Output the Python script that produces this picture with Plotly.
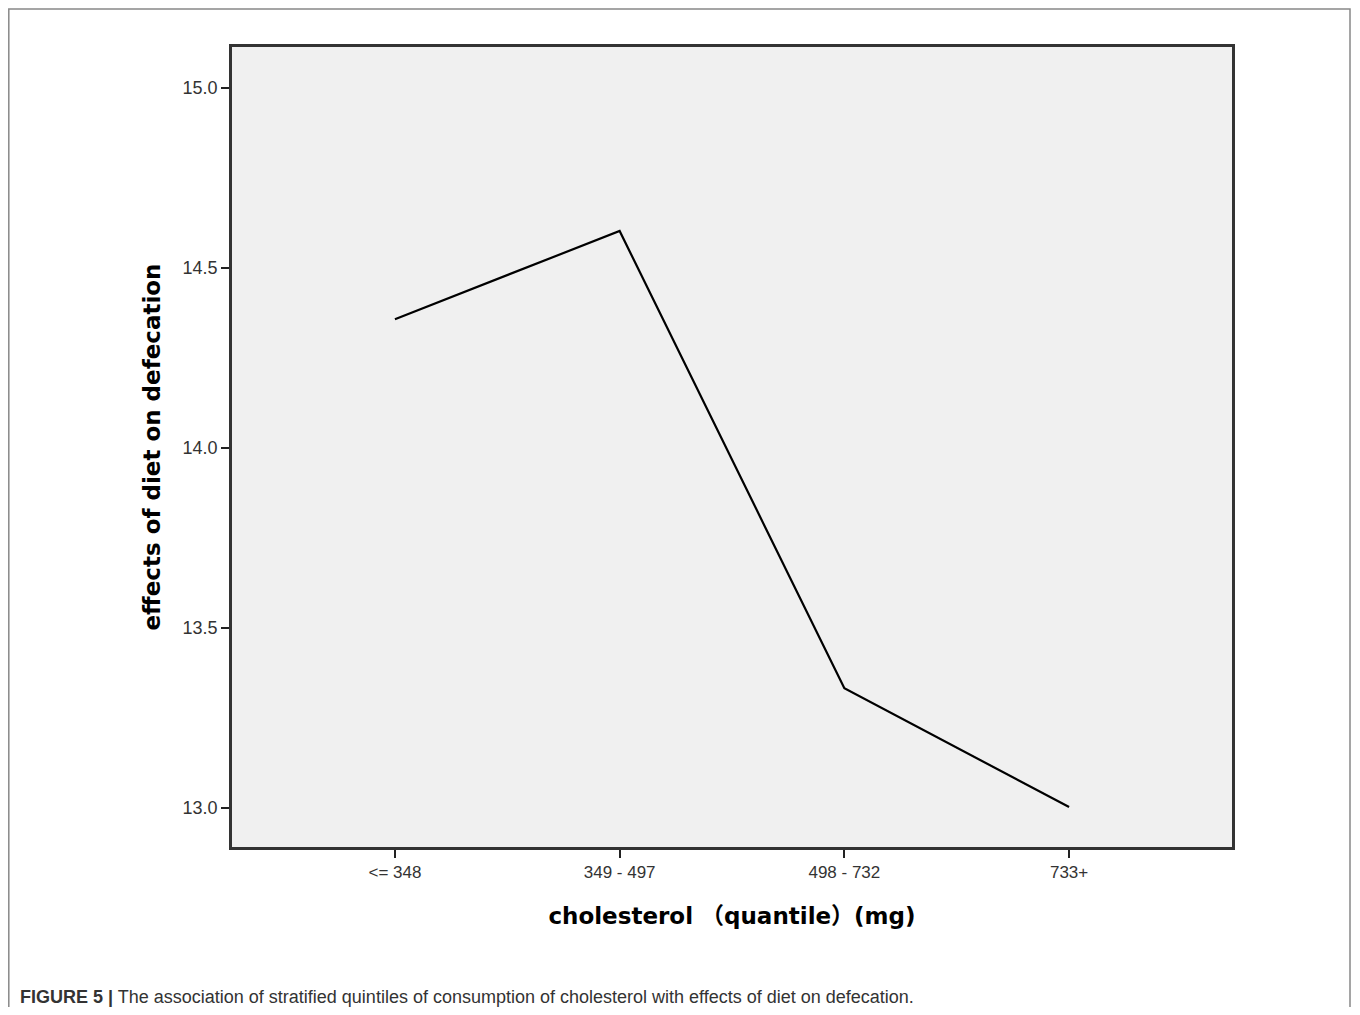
import plotly.graph_objects as go

categories = ["<= 348", "349 - 497", "498 - 732", "733+"]
values = [14.358, 14.603, 13.333, 13.003]
y_ticks = [13.0, 13.5, 14.0, 14.5, 15.0]
y_tick_labels = ["13.0", "13.5", "14.0", "14.5", "15.0"]

x_title = "cholesterol （quantile）(mg)"
y_title = "effects of diet on defecation"
caption_bold = "FIGURE 5 |"
caption_text = " The association of stratified quintiles of consumption of cholesterol with effects of diet on defecation."

fig = go.Figure()
fig.add_trace(go.Scatter(
    x=list(range(len(categories))), y=values, mode="lines",
    line=dict(color="black", width=2.2), hoverinfo="skip", showlegend=False,
))

fig.update_layout(
    width=1347, height=999,
    margin=dict(l=224, r=123, t=39, b=160),
    paper_bgcolor="white", plot_bgcolor="#f0f0f0",
    font=dict(family="Liberation Sans, Arial", color="#333"),
    showlegend=False,
)
fig.update_xaxes(
    range=[-0.725, 3.725], tickmode="array",
    tickvals=list(range(len(categories))), ticktext=categories,
    ticks="outside", ticklen=8, tickwidth=1.5, tickcolor="#222",
    showgrid=False, zeroline=False,
    showline=True, linecolor="#333", linewidth=2.5, mirror=True,
    tickfont=dict(size=17, color="#333"),
    title=dict(text=x_title, font=dict(family="DejaVu Sans, Noto Sans CJK SC", size=23, color="black", weight="bold"), standoff=27),
)
fig.update_yaxes(
    range=[12.892, 15.114], tickmode="array",
    tickvals=y_ticks, ticktext=y_tick_labels,
    ticks="outside", ticklen=8, tickwidth=1.5, tickcolor="#222",
    showgrid=False, zeroline=False,
    showline=True, linecolor="#333", linewidth=2.5, mirror=True,
    tickfont=dict(size=18, color="#333"),
    title=dict(text=y_title, font=dict(family="DejaVu Sans", size=23, color="black", weight="bold"), standoff=16),
)

# outer frame (top, left, right)
fig.add_shape(type="path", xref="paper", yref="paper",
              path="M -0.2232,-0.3 L -0.2232,1.0475 L 1.118,1.0475 L 1.118,-0.3",
              line=dict(color="#888", width=1.5), layer="below")

fig.add_annotation(
    xref="paper", yref="paper", x=-0.214, y=-0.1875, xanchor="left", yanchor="middle",
    showarrow=False, align="left",
    text="<b>" + caption_bold + "</b>" + caption_text,
    font=dict(family="Liberation Sans, Arial", size=18, color="#333"),
)

fig.write_html("out.html")
